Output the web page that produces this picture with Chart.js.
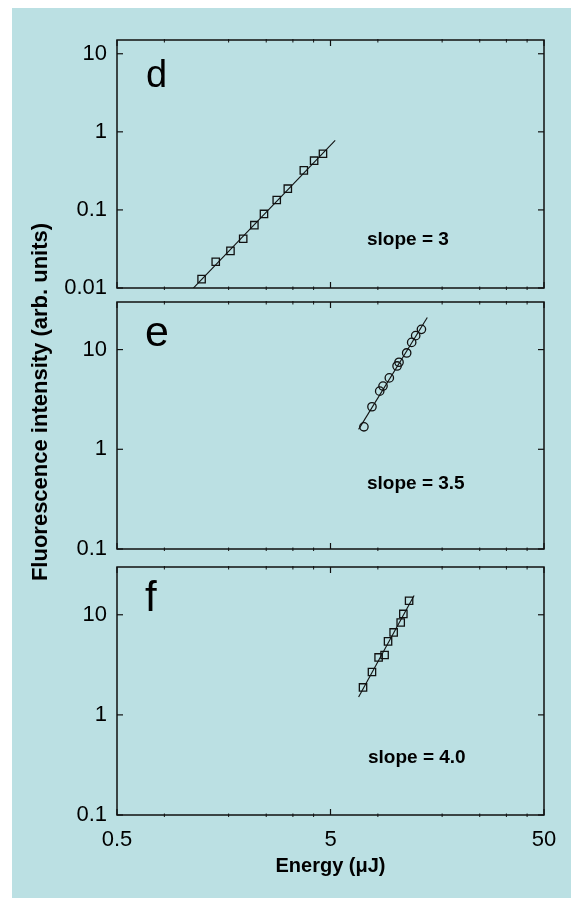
<!DOCTYPE html>
<html>
<head>
<meta charset="utf-8">
<script src="https://cdn.jsdelivr.net/npm/chart.js@4.4.1/dist/chart.umd.min.js"></script>
<style>
  html, body { margin: 0; padding: 0; background: #ffffff; }
  #wrap { position: relative; width: 571px; height: 899px; overflow: hidden; background: #ffffff; }
  #panel { position: absolute; left: 12px; top: 8px; width: 559px; height: 890px; background: #bbe0e3; }
  canvas { position: absolute; left: 0; }
  #ytitle {
    position: absolute; left: 40px; top: 402px; width: 440px; height: 26px;
    margin-left: -220px; margin-top: -13px; transform: rotate(-90deg);
    text-align: center; font: bold 22px "Liberation Sans", Arial, sans-serif; color: #000; line-height: 26px;
    white-space: nowrap;
  }
</style>
</head>
<body>
<div id="wrap">
  <div id="panel"></div>
  <canvas id="cd" width="571" height="300" style="top:15px"></canvas>
  <canvas id="ce" width="571" height="300" style="top:275px"></canvas>
  <canvas id="cf" width="571" height="359" style="top:540px"></canvas>
  <div id="ytitle">Fluorescence intensity (arb. units)</div>
</div>
<script>
// ---------------- data ----------------
const panelLetters = ['d', 'e', 'f'];
const slopeLabels = ['slope = 3', 'slope = 3.5', 'slope = 4.0'];
const xTickValues = [0.5, 5, 50];
const xMinorTickValues = [0.8333, 1.6667, 2.5, 3.3333, 4.1667, 8.333, 16.667, 25, 33.333, 41.667];
const yTickValuesD = [0.01, 0.1, 1, 10];
const yTickValuesEF = [0.1, 1, 10];
const xTitle = 'Energy (\u03BCJ)';

const energyD = [1.245, 1.45, 1.70, 1.95, 2.20, 2.44, 2.80, 3.155, 3.75, 4.19, 4.61];
const intensityD = [0.0130, 0.0217, 0.0299, 0.0427, 0.0638, 0.0889, 0.134, 0.187, 0.321, 0.427, 0.524];
const fitEnergyD = [1.12, 5.26];
const fitIntensityD = [0.0095, 0.78];

const energyE = [7.17, 7.82, 8.50, 8.81, 9.43, 10.25, 10.47, 11.37, 12.0, 12.53, 13.33];
const intensityE = [1.68, 2.67, 3.83, 4.30, 5.20, 6.85, 7.46, 9.25, 11.8, 13.8, 15.96];
const fitEnergyE = [6.77, 14.2];
const fitIntensityE = [1.585, 21.0];

const energyF = [7.10, 7.82, 8.40, 8.96, 9.30, 9.88, 10.66, 10.97, 11.67];
const intensityF = [1.88, 2.68, 3.75, 3.96, 5.42, 6.66, 8.38, 10.2, 13.8];
const fitEnergyF = [6.77, 12.32];
const fitIntensityF = [1.51, 15.6];

// ---------------- helpers ----------------
const pts = (xs, ys) => xs.map((v, i) => ({ x: v, y: ys[i] }));
const FONT = '"Liberation Sans", Arial, sans-serif';
const INK = '#111111';

const framePlugin = {
  id: 'frame',
  afterDatasetsDraw(chart, args, o) {
    const { ctx, chartArea: a } = chart;
    const x = chart.scales.x, y = chart.scales.y;
    ctx.save();
    ctx.strokeStyle = INK;
    ctx.lineWidth = 1.5;
    ctx.strokeRect(a.left, a.top, a.right - a.left, a.bottom - a.top);
    const seg = (x1, y1, x2, y2) => { ctx.beginPath(); ctx.moveTo(x1, y1); ctx.lineTo(x2, y2); ctx.stroke(); };
    ctx.lineWidth = 1.2;
    o.yTicks.forEach(v => {
      const py = y.getPixelForValue(v);
      seg(a.left, py, a.left + 6, py);
      seg(a.right - 6, py, a.right, py);
    });
    xTickValues.forEach(v => {
      const px = x.getPixelForValue(v);
      seg(px, a.bottom, px, a.bottom - 6);
      seg(px, a.top, px, a.top + 6);
    });
    ctx.lineWidth = 1;
    xMinorTickValues.forEach(v => {
      const px = x.getPixelForValue(v);
      seg(px, a.bottom - 1.5, px, a.bottom + 2);
      seg(px, a.top - 1, px, a.top + 2.5);
    });
    // panel letter
    ctx.fillStyle = '#000';
    ctx.textBaseline = 'alphabetic';
    ctx.textAlign = 'left';
    ctx.font = o.letterSize + 'px ' + FONT;
    ctx.fillText(o.letter, a.left + o.letterDX, a.top + o.letterDY);
    // slope label
    ctx.font = 'bold ' + o.slopeSize + 'px ' + FONT;
    ctx.textBaseline = 'middle';
    ctx.fillText(o.slope, a.left + o.slopeDX, a.top + o.slopeDY);
    ctx.restore();
  }
};

function makeChart(id, cfg) {
  const ctx = document.getElementById(id).getContext('2d');
  return new Chart(ctx, {
    type: 'scatter',
    data: {
      datasets: [
        {
          data: pts(cfg.fitX, cfg.fitY), showLine: true, borderColor: INK, borderWidth: 1.1,
          pointRadius: 0, fill: false, tension: 0
        },
        {
          data: pts(cfg.ex, cfg.iy), showLine: false, pointStyle: cfg.marker,
          pointRadius: cfg.marker === 'rect' ? 5.2 : 4.2, borderColor: INK, borderWidth: 1.3,
          backgroundColor: 'rgba(0,0,0,0)'
        }
      ]
    },
    options: {
      responsive: false, animation: false, devicePixelRatio: 1,
      layout: { padding: cfg.padding },
      plugins: {
        legend: { display: false }, tooltip: { enabled: false },
        frame: cfg.frame
      },
      scales: {
        x: {
          type: 'logarithmic', min: 0.5, max: 50, display: cfg.showX,
          grid: { display: false, drawTicks: false }, border: { display: false },
          afterBuildTicks: s => { s.ticks = xTickValues.map(v => ({ value: v })); },
          afterFit: s => { s.height = cfg.showX ? 63 : 0; },
          ticks: {
            autoSkip: false, maxRotation: 0, padding: 12, color: '#000',
            font: { family: FONT, size: 22 }, callback: v => String(v)
          },
          title: {
            display: true, text: xTitle, color: '#000', padding: { top: 1, bottom: 0 },
            font: { family: FONT, size: 20, weight: 'bold' }
          }
        },
        y: {
          type: 'logarithmic', min: cfg.ymin, max: cfg.ymax,
          grid: { display: false, drawTicks: false }, border: { display: false },
          afterBuildTicks: s => { s.ticks = cfg.yTicks.map(v => ({ value: v })); },
          afterFit: s => { s.width = 117; },
          ticks: {
            autoSkip: false, padding: 10, color: '#000',
            font: { family: FONT, size: 22 }, callback: v => String(v)
          }
        }
      }
    },
    plugins: [framePlugin]
  });
}

makeChart('cd', {
  ex: energyD, iy: intensityD, fitX: fitEnergyD, fitY: fitIntensityD, marker: 'rect',
  ymin: 0.01, ymax: 15, yTicks: yTickValuesD, showX: false,
  padding: { left: 0, right: 27, top: 25, bottom: 27 },
  frame: { yTicks: yTickValuesD, letter: panelLetters[0], letterSize: 38, letterDX: 29, letterDY: 46.5,
           slope: slopeLabels[0], slopeSize: 19, slopeDX: 250, slopeDY: 200 }
});
makeChart('ce', {
  ex: energyE, iy: intensityE, fitX: fitEnergyE, fitY: fitIntensityE, marker: 'circle',
  ymin: 0.1, ymax: 30, yTicks: yTickValuesEF, showX: false,
  padding: { left: 0, right: 27, top: 27, bottom: 26 },
  frame: { yTicks: yTickValuesEF, letter: panelLetters[1], letterSize: 43, letterDX: 28, letterDY: 43.5,
           slope: slopeLabels[1], slopeSize: 19, slopeDX: 250, slopeDY: 182 }
});
makeChart('cf', {
  ex: energyF, iy: intensityF, fitX: fitEnergyF, fitY: fitIntensityF, marker: 'rect',
  ymin: 0.1, ymax: 30, yTicks: yTickValuesEF, showX: true,
  padding: { left: 0, right: 27, top: 27, bottom: 21 },
  frame: { yTicks: yTickValuesEF, letter: panelLetters[2], letterSize: 42, letterDX: 28, letterDY: 44,
           slope: slopeLabels[2], slopeSize: 19, slopeDX: 251, slopeDY: 191 }
});
</script>
</body>
</html>
